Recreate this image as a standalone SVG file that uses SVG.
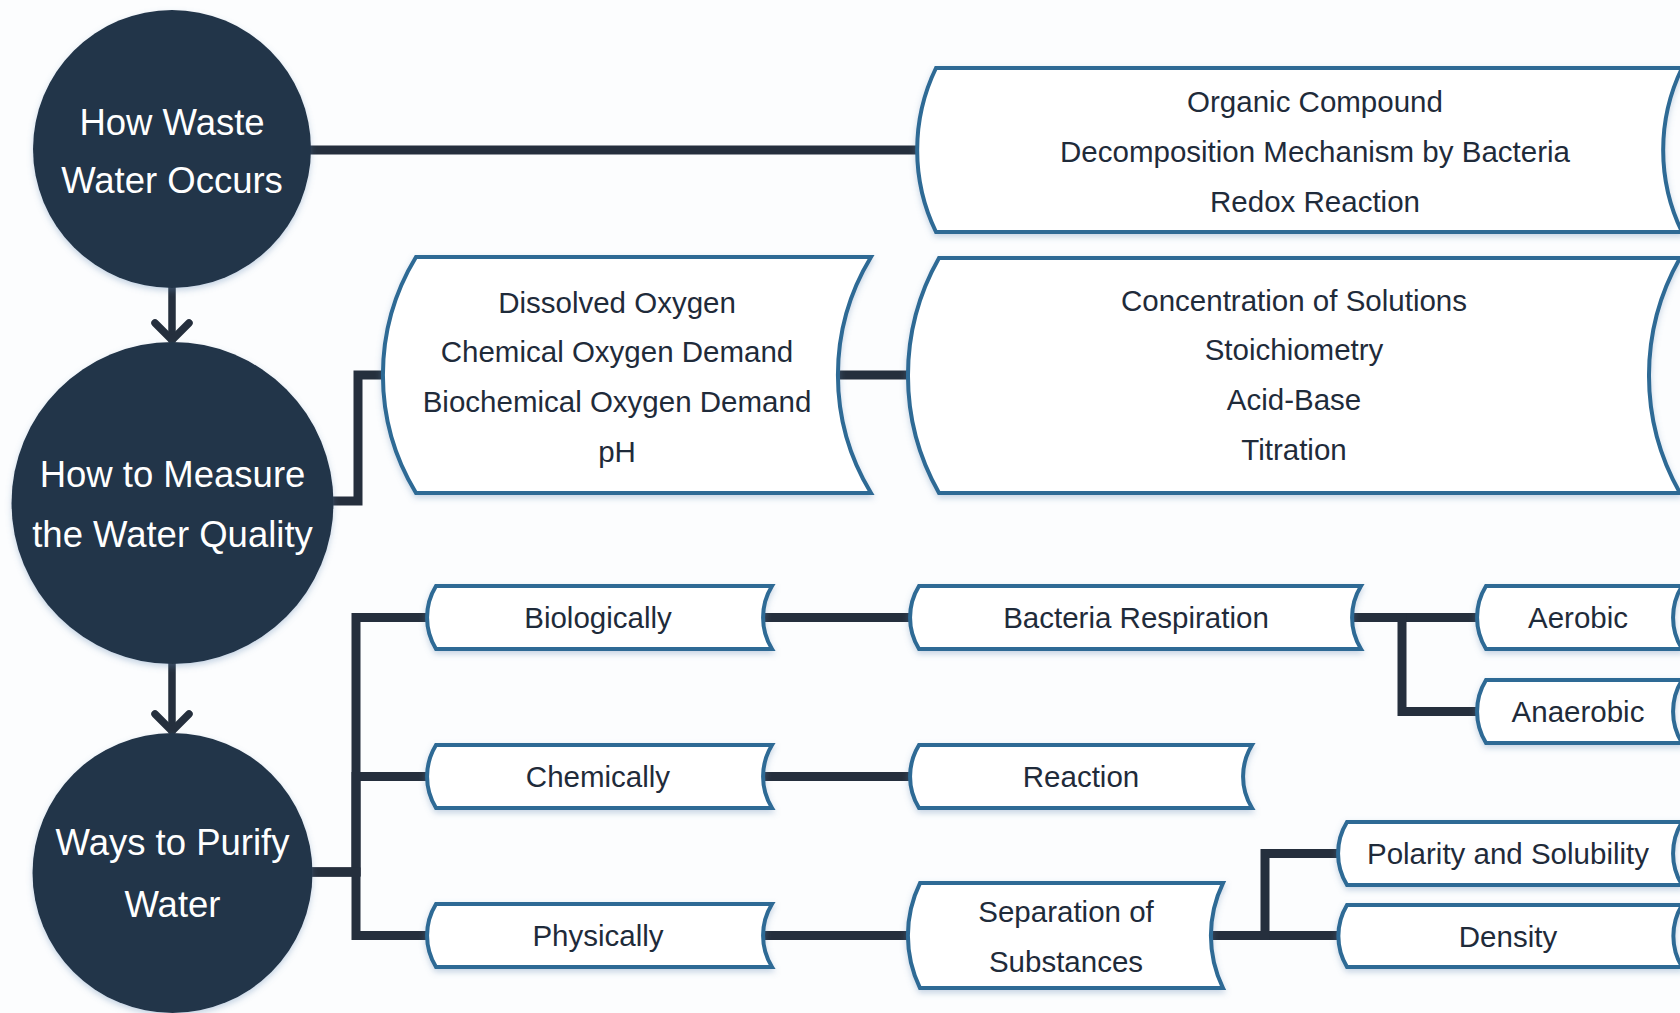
<svg xmlns="http://www.w3.org/2000/svg" width="1680" height="1013" viewBox="0 0 1680 1013">
<style>
.bg{fill:#fcfdfe}
.hub{fill:#243548;filter:url(#sh)}
.box{fill:#ffffff;stroke:#2d6a95;stroke-width:4;stroke-linejoin:miter;filter:url(#sh)}
.ht{font-family:"Liberation Sans",Arial,sans-serif;font-size:36.5px;fill:#ffffff;text-anchor:middle}
.bt{font-family:"Liberation Sans",Arial,sans-serif;font-size:29.5px;fill:#1f2b3a;text-anchor:middle}
.cn{fill:none;stroke:#252f3d;stroke-width:9;stroke-linecap:round;stroke-linejoin:miter}
.ar{fill:none;stroke:#252f3d;stroke-width:7.5;stroke-linecap:round;stroke-linejoin:round}
</style>
<defs>
<filter id="sh" x="-10%" y="-10%" width="120%" height="130%">
<feDropShadow dx="0" dy="3" stdDeviation="3" flood-color="#5d86b0" flood-opacity="0.35"/>
</filter>
<marker id="chev" markerUnits="userSpaceOnUse" viewBox="0 0 40 40" markerWidth="40" markerHeight="40" refX="20" refY="20" orient="auto" overflow="visible">
<path d="M3,3 L20,20 L3,37" fill="none" stroke="#252f3d" stroke-width="7.5" stroke-linecap="round" stroke-linejoin="round"/>
</marker>
</defs>
<rect class="bg" x="0" y="0" width="1680" height="1013"/>

<g id="connectors">
<path class="cn" d="M300,150 H917"/>
<path class="ar" d="M172,287 V340" marker-end="url(#chev)"/>
<path class="ar" d="M172,660 V731" marker-end="url(#chev)"/>
<path class="cn" d="M320,501 H358 V375 H383"/>
<path class="cn" d="M838,375 H908"/>
<path class="cn" d="M300,872 H356 V617.5 H427"/>
<path class="cn" d="M300,872 H356 V776.5 H427"/>
<path class="cn" d="M300,872 H356 V935.5 H427"/>
<path class="cn" d="M763,617.5 H910"/>
<path class="cn" d="M763,776.5 H910"/>
<path class="cn" d="M763,935.5 H910"/>
<path class="cn" d="M1352,617.5 H1477"/>
<path class="cn" d="M1352,617.5 H1402 V711.5 H1477"/>
<path class="cn" d="M1211,935.5 H1338"/>
<path class="cn" d="M1211,935.5 H1265 V853.5 H1338"/>
</g>

<g id="n-waste">
<circle class="hub" cx="172" cy="149" r="139"/>
<text class="ht" x="172" y="135">How Waste</text>
<text class="ht" x="172" y="193">Water Occurs</text>
</g>
<g id="n-measure">
<circle class="hub" cx="172.5" cy="503" r="161"/>
<text class="ht" x="172.5" y="487">How to Measure</text>
<text class="ht" x="172.5" y="547">the Water Quality</text>
</g>
<g id="n-purify">
<circle class="hub" cx="172.5" cy="873" r="140"/>
<text class="ht" x="172.5" y="855">Ways to Purify</text>
<text class="ht" x="172.5" y="917">Water</text>
</g>

<g id="n-organic">
<path class="box" d="M936,68 H1682 A188,188 0 0 0 1682,232 H936 A188,188 0 0 1 936,68 Z"/>
<text class="bt" x="1315" y="112">Organic Compound</text>
<text class="bt" x="1315" y="162">Decomposition Mechanism by Bacteria</text>
<text class="bt" x="1315" y="212">Redox Reaction</text>
</g>
<g id="n-dissolved">
<path class="box" d="M416,257 H871 A227,227 0 0 0 871,493 H416 A227,227 0 0 1 416,257 Z"/>
<text class="bt" x="617" y="313">Dissolved Oxygen</text>
<text class="bt" x="617" y="362">Chemical Oxygen Demand</text>
<text class="bt" x="617" y="412">Biochemical Oxygen Demand</text>
<text class="bt" x="617" y="462">pH</text>
</g>
<g id="n-concentration">
<path class="box" d="M939,258 H1680 A238,238 0 0 0 1680,493 H939 A238,238 0 0 1 939,258 Z"/>
<text class="bt" x="1294" y="311">Concentration of Solutions</text>
<text class="bt" x="1294" y="360">Stoichiometry</text>
<text class="bt" x="1294" y="410">Acid-Base</text>
<text class="bt" x="1294" y="460">Titration</text>
</g>

<g id="n-biologically">
<path class="box" d="M436,586 H772 A60,60 0 0 0 772,649 H436 A60,60 0 0 1 436,586 Z"/>
<text class="bt" x="598" y="628">Biologically</text>
</g>
<g id="n-chemically">
<path class="box" d="M436,745 H772 A60,60 0 0 0 772,808 H436 A60,60 0 0 1 436,745 Z"/>
<text class="bt" x="598" y="787">Chemically</text>
</g>
<g id="n-physically">
<path class="box" d="M436,904 H772 A60,60 0 0 0 772,967 H436 A60,60 0 0 1 436,904 Z"/>
<text class="bt" x="598" y="946">Physically</text>
</g>
<g id="n-bacteria">
<path class="box" d="M919,586 H1361 A60,60 0 0 0 1361,649 H919 A60,60 0 0 1 919,586 Z"/>
<text class="bt" x="1136" y="628">Bacteria Respiration</text>
</g>
<g id="n-aerobic">
<path class="box" d="M1486,586 H1682 A60,60 0 0 0 1682,649 H1486 A60,60 0 0 1 1486,586 Z"/>
<text class="bt" x="1578" y="628">Aerobic</text>
</g>
<g id="n-anaerobic">
<path class="box" d="M1486,680 H1682 A60,60 0 0 0 1682,743 H1486 A60,60 0 0 1 1486,680 Z"/>
<text class="bt" x="1578" y="722">Anaerobic</text>
</g>
<g id="n-reaction">
<path class="box" d="M919,745 H1252 A60,60 0 0 0 1252,808 H919 A60,60 0 0 1 919,745 Z"/>
<text class="bt" x="1081" y="787">Reaction</text>
</g>
<g id="n-separation">
<path class="box" d="M920,883 H1223 A120,120 0 0 0 1223,988 H920 A120,120 0 0 1 920,883 Z"/>
<text class="bt" x="1066" y="922">Separation of</text>
<text class="bt" x="1066" y="972">Substances</text>
</g>
<g id="n-polarity">
<path class="box" d="M1347,822 H1682 A60,60 0 0 0 1682,885 H1347 A60,60 0 0 1 1347,822 Z"/>
<text class="bt" x="1508" y="864">Polarity and Solubility</text>
</g>
<g id="n-density">
<path class="box" d="M1347,905 H1682 A60,60 0 0 0 1682,967 H1347 A60,60 0 0 1 1347,905 Z"/>
<text class="bt" x="1508" y="947">Density</text>
</g>
</svg>
